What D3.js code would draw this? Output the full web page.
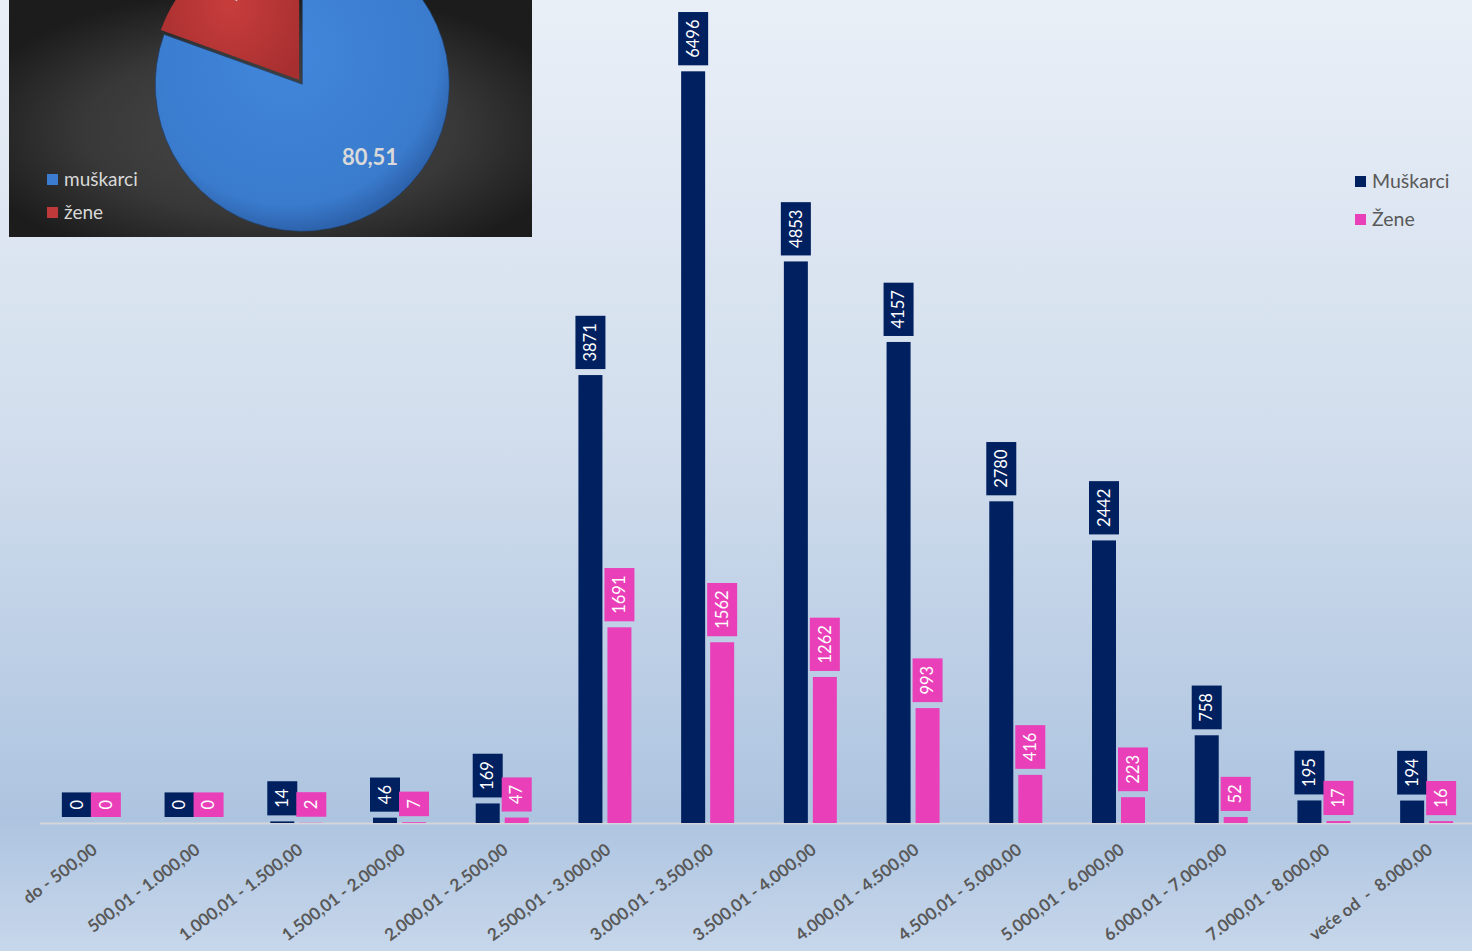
<!DOCTYPE html>
<html><head><meta charset="utf-8">
<script src="https://cdn.jsdelivr.net/npm/d3@7"></script>
<style>body{margin:0;overflow:hidden;background:#fff}svg{display:block}</style>
</head><body>
<svg id="c" width="1472" height="951"></svg>
<script>
const categories = ["do - 500,00","500,01 - 1.000,00","1.000,01 - 1.500,00","1.500,01 - 2.000,00","2.000,01 - 2.500,00","2.500,01 - 3.000,00","3.000,01 - 3.500,00","3.500,01 - 4.000,00","4.000,01 - 4.500,00","4.500,01 - 5.000,00","5.000,01 - 6.000,00","6.000,01 - 7.000,00","7.000,01 - 8.000,00","veće od  -  8.000,00"];
const men = [0,0,14,46,169,3871,6496,4853,4157,2780,2442,758,195,194];
const women = [0,0,2,7,47,1691,1562,1262,993,416,223,52,17,16];
const seriesNames = ["Muškarci","Žene"];
const seriesColors = ["#002060","#e940b9"];
const pieNames = ["muškarci","žene"];
const pieValues = [80.51,19.49];

const svg = d3.select("#c");
const defs = svg.append("defs");
const bg = defs.append("linearGradient").attr("id","bg").attr("x1",0).attr("y1",0).attr("x2",0).attr("y2",1);
[[0,"#e9eff7"],[0.45,"#d2deed"],[0.86,"#adc4e0"],[1,"#c7d7eb"]].forEach(s=>bg.append("stop").attr("offset",s[0]).attr("stop-color",s[1]));
svg.append("rect").attr("width",1472).attr("height",951).attr("fill","url(#bg)");

const x = d3.scaleBand().domain(categories).range([40,1478]);
const xs = d3.scaleBand().domain(seriesNames).range([-26.5,26.5]).paddingInner(5/29);
const y = d3.scaleLinear().domain([0,7000]).range([823,13]);

// axis line
svg.append("line").attr("x1",40).attr("x2",1472).attr("y1",823.5).attr("y2",823.5).attr("stroke","#d4d6da").attr("stroke-width",2);

const series = [men, women];
series.forEach((vals,si)=>{
  const g = svg.append("g");
  g.selectAll("rect").data(vals).join("rect")
    .attr("x",(d,i)=>x(categories[i])+x.bandwidth()/2+xs(seriesNames[si]))
    .attr("width",xs.bandwidth())
    .attr("y",d=>y(d)).attr("height",d=>y(0)-y(d))
    .attr("fill",seriesColors[si]);
});
// data labels
series.forEach((vals,si)=>{
  vals.forEach((v,i)=>{
    const cx = x(categories[i])+x.bandwidth()/2+xs(seriesNames[si])+xs.bandwidth()/2;
    const lg = svg.append("g").attr("transform",`translate(${cx},${y(v)-6})`);
    const r = lg.append("rect").attr("fill",seriesColors[si]);
    const t = lg.append("text").text(v).attr("fill","#fff").attr("font-family","Lato, 'Noto Sans', sans-serif")
      .attr("font-size",16.5).attr("text-anchor","middle").attr("dy","0.35em");
    const len = t.node().getComputedTextLength();
    const h = len+15;
    r.attr("x",-15).attr("y",-h).attr("width",30).attr("height",h);
    t.attr("transform",`translate(0,${-h/2}) rotate(-90)`);
  });
});
// x tick labels
svg.append("g").selectAll("text").data(categories).join("text")
  .attr("transform",d=>`translate(${x(d)+x.bandwidth()/2+7},852) rotate(-37)`)
  .attr("text-anchor","end")
  .attr("font-family","Lato, 'Noto Sans', sans-serif").attr("font-weight","bold").attr("font-size",17)
  .attr("fill","#595959").attr("xml:space","preserve").text(d=>d);

// right legend
seriesNames.forEach((n,i)=>{
  svg.append("rect").attr("x",1355).attr("y",176+i*38).attr("width",11).attr("height",11).attr("fill",seriesColors[i]);
  svg.append("text").attr("x",1372).attr("y",188+i*38).text(n).attr("font-family","Lato, 'Noto Sans', sans-serif")
    .attr("font-size",19.5).attr("fill","#595959");
});

// pie inset
const ig = defs.append("radialGradient").attr("id","ibg").attr("cx","0.5").attr("cy","0.55").attr("r","0.6");
[[0,"#4a4a4a"],[0.6,"#383838"],[1,"#1c1c1c"]].forEach(s=>ig.append("stop").attr("offset",s[0]).attr("stop-color",s[1]));
svg.append("rect").attr("x",9).attr("y",0).attr("width",523).attr("height",237).attr("fill","url(#ibg)");
const pb = defs.append("radialGradient").attr("id","pb").attr("cx","0.45").attr("cy","0.4").attr("r","0.6");
[[0,"#4187db"],[0.85,"#3a7bcd"],[1,"#2d63ad"]].forEach(s=>pb.append("stop").attr("offset",s[0]).attr("stop-color",s[1]));
const pr = defs.append("radialGradient").attr("id","pr").attr("cx","0.5").attr("cy","0.5").attr("r","0.6");
[[0,"#c73d3c"],[1,"#a82f30"]].forEach(s=>pr.append("stop").attr("offset",s[0]).attr("stop-color",s[1]));
const pieFills = ["url(#pb)","url(#pr)"];
const clip = defs.append("clipPath").attr("id","ic");
clip.append("rect").attr("x",9).attr("y",0).attr("width",523).attr("height",237);
const pg = svg.append("g").attr("clip-path","url(#ic)");
const arcs = d3.pie().sort(null).value(d=>d)(pieValues);
const R = 147;
const arc = d3.arc().innerRadius(0).outerRadius(R);
const center = [300,81];
const offs = [4,1.5];
arcs.forEach((a,i)=>{
  const mid = (a.startAngle+a.endAngle)/2;
  const dx = Math.sin(mid)*offs[i], dy = -Math.cos(mid)*offs[i];
  pg.append("path").attr("d",arc(a)).attr("transform",`translate(${center[0]+dx},${center[1]+dy})`)
    .attr("fill",pieFills[i]).attr("stroke","#1d3d6a").attr("stroke-opacity",i?0:0.6).attr("stroke-width",1);
});
const labelPos = [[370,157],[237,-10]];
arcs.forEach((a,i)=>{
  pg.append("text").attr("x",labelPos[i][0]).attr("y",labelPos[i][1]).attr("dy","0.35em").attr("text-anchor","middle")
    .attr("font-family","Lato, 'Noto Sans', sans-serif").attr("font-weight","bold").attr("font-size",22)
    .attr("fill","#d9d9d9").text(String(pieValues[i]).replace(".",","));
});
pieNames.forEach((n,i)=>{
  svg.append("rect").attr("x",47).attr("y",174+i*33).attr("width",11).attr("height",11).attr("fill",i?"#c0393a":"#3b7cd0");
  svg.append("text").attr("x",64).attr("y",186+i*33).text(n).attr("font-family","Lato, 'Noto Sans', sans-serif")
    .attr("font-size",19).attr("fill","#d9d9d9");
});
</script>
</body></html>
